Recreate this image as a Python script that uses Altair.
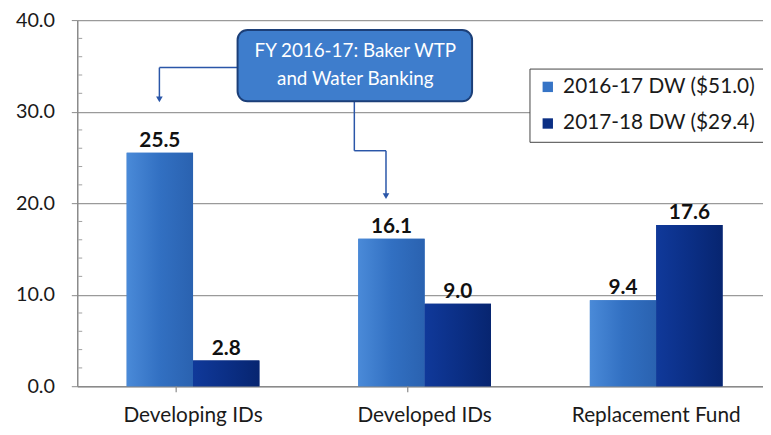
import altair as alt
import pandas as pd

categories = ["Developing IDs", "Developed IDs", "Replacement Fund"]
series = ["2016-17 DW ($51.0)", "2017-18 DW ($29.4)"]
values_1617 = [25.5, 16.1, 9.4]
values_1718 = [2.8, 9.0, 17.6]
major_ticks = [0, 10, 20, 30, 40]
minor_ticks = [2, 4, 6, 8, 12, 14, 16, 18, 22, 24, 26, 28, 32, 34, 36, 38]
note_lines = ["FY 2016-17: Baker WTP", "and Water Banking"]

rows = []
for c, a, b in zip(categories, values_1617, values_1718):
    rows.append({"category": c, "series": series[0], "value": a})
    rows.append({"category": c, "series": series[1], "value": b})
df = pd.DataFrame(rows)

FONT = "Lato"
C1 = "#3674c6"
C2 = "#0b2f84"
TXT = "#1a1a1a"

xscale = alt.Scale(domain=categories, paddingInner=0.427, paddingOuter=0.194, align=0.55)
xenc = alt.X("category:N", sort=categories, scale=xscale,
             axis=alt.Axis(title=None, labelAngle=0, ticks=False, labelFontSize=21,
                           labelFont=FONT, labelColor=TXT, labelPadding=19,
                           domainColor="#8a8a8a", domainWidth=1.5))
xoff = alt.XOffset("series:N", sort=series, scale=alt.Scale(paddingInner=0, paddingOuter=0))
yenc = alt.Y("value:Q", scale=alt.Scale(domain=[0, 40], nice=False),
             axis=alt.Axis(title=None, values=major_ticks, format=".1f", labelOverlap=False,
                           labelFontSize=20, labelFont=FONT, labelColor=TXT,
                           labelPadding=17, tickSize=6, tickColor="#8a8a8a",
                           grid=True, gridColor="#9a9a9a", gridWidth=1.2,
                           domainColor="#8a8a8a", domainWidth=1.5))

base = alt.Chart(df)

bars = base.mark_bar().encode(
    x=xenc, xOffset=xoff, y=yenc,
    color=alt.Color("series:N", sort=series,
                    scale=alt.Scale(domain=series, range=[C1, C2]),
                    legend=alt.Legend(title=None, orient="none", legendX=457, legendY=49,
                                      labelFontSize=21, labelFont=FONT, labelColor=TXT,
                                      labelLimit=400,
                                      symbolType="square", symbolSize=110, symbolStrokeWidth=0,
                                      rowPadding=15, labelOffset=5, padding=8,
                                      strokeColor="#444444", fillColor="white")),
)

grad1 = alt.Gradient(gradient="linear", x1=0, x2=1, y1=0, y2=0,
                     stops=[alt.GradientStop(color="#4a8ad8", offset=0),
                            alt.GradientStop(color="#3270c2", offset=0.5),
                            alt.GradientStop(color="#2a62b0", offset=1)])
grad2 = alt.Gradient(gradient="linear", x1=0, x2=1, y1=0, y2=0,
                     stops=[alt.GradientStop(color="#10399a", offset=0),
                            alt.GradientStop(color="#0b2f86", offset=0.5),
                            alt.GradientStop(color="#072570", offset=1)])

over1 = base.transform_filter(alt.datum.series == series[0]).mark_bar(color=grad1).encode(
    x=alt.X("category:N", sort=categories), xOffset=alt.XOffset("series:N", sort=series), y="value:Q")
over2 = base.transform_filter(alt.datum.series == series[1]).mark_bar(color=grad2).encode(
    x=alt.X("category:N", sort=categories), xOffset=alt.XOffset("series:N", sort=series), y="value:Q")

labels = base.mark_text(font=FONT, fontSize=21, fontWeight="bold", color="#111111",
                        baseline="alphabetic", dy=-6).encode(
    x=alt.X("category:N", sort=categories), xOffset=alt.XOffset("series:N", sort=series),
    y="value:Q", text=alt.Text("value:Q", format=".1f"))

# minor ticks inside the y axis
minor_df = pd.DataFrame({"v": minor_ticks})
minor = alt.Chart(minor_df).mark_rule(color="#a0a0a0", strokeWidth=1).encode(
    x=alt.value(1), x2=alt.value(5), y="v:Q")

# tick marks between categories (placed just past the end of each band)
tick_df = pd.DataFrame({"category": categories[:2]})
cat_ticks = alt.Chart(tick_df).mark_rule(color="#8a8a8a", strokeWidth=1.2).encode(
    x=alt.X("category:N", sort=categories, bandPosition=1),
    xOffset=alt.value(50),
    y=alt.value(370), y2=alt.value(376))

note_df = pd.DataFrame({"note": [note_lines]})
ARROW = "#2a56a8"
box = alt.Chart(note_df).mark_rect(cornerRadius=10, fill="#3e7dcc", stroke="#1c3f78",
                                   strokeWidth=2).encode(
    x=alt.value(162), x2=alt.value(399), y=alt.value(10), y2=alt.value(82))
note_text = alt.Chart(note_df).mark_text(font=FONT, fontSize=19, color="white",
                                         lineHeight=29, baseline="middle", align="center").encode(
    x=alt.value(281), y=alt.value(31), text="note")

seg_df = pd.DataFrame({"k": [0]})
def seg(x1, x2, y1, y2):
    return alt.Chart(seg_df).mark_rule(color=ARROW, strokeWidth=1.5).encode(
        x=alt.value(x1), x2=alt.value(x2), y=alt.value(y1), y2=alt.value(y2))

def head(x, y):
    return alt.Chart(seg_df).mark_point(shape="triangle-down", filled=True, color=ARROW,
                                        size=45, opacity=1).encode(x=alt.value(x), y=alt.value(y))

arrows = [
    seg(83, 162, 48, 48), seg(83, 83, 48, 78), head(83, 80),
    seg(280, 280, 82, 132), seg(280, 312, 132, 132), seg(312, 312, 132, 176), head(312, 178),
]

chart = alt.layer(bars, over1, over2, labels, minor, cat_ticks, *arrows, box, note_text).properties(
    width=693, height=370,
    padding={"left": 70, "top": 10, "right": 0, "bottom": 40},
    autosize=alt.AutoSizeParams(type="none"),
    background="white",
).configure_view(stroke=None)

chart.save("out.html", embed_options={"renderer": "svg", "actions": False})
